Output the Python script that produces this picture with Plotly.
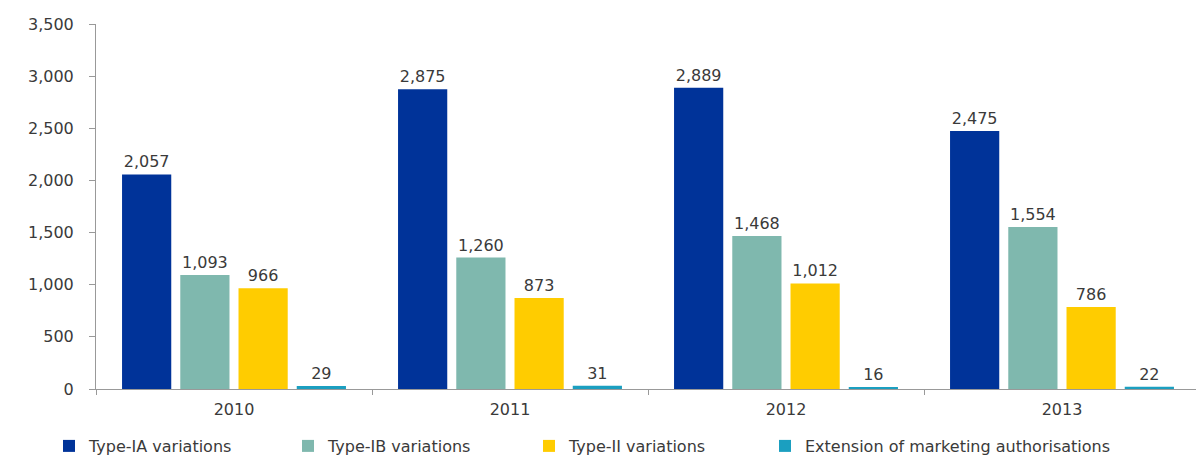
import plotly.graph_objects as go

years = ["2010", "2011", "2012", "2013"]
series_names = ["Type-IA variations", "Type-IB variations", "Type-II variations",
                "Extension of marketing authorisations"]
type_ia = [2057, 2875, 2889, 2475]
type_ib = [1093, 1260, 1468, 1554]
type_ii = [966, 873, 1012, 786]
extension = [29, 31, 16, 22]
colors = ["#003399", "#7fb8ae", "#ffcc00", "#1b9fc0"]
y_ticks = [0, 500, 1000, 1500, 2000, 2500, 3000, 3500]
legend_ids = ["legend", "legend2", "legend3", "legend4"]
legend_x_px = [41, 280, 521, 757]

font_family = "DejaVu Sans, Verdana, sans-serif"
txt_color = "#3a3a3a"
fig = go.Figure()
for name, vals, col, lid in zip(series_names, [type_ia, type_ib, type_ii, extension],
                                colors, legend_ids):
    fig.add_trace(go.Bar(
        x=years, y=vals, name=name, marker_color=col, marker_line_width=0,
        legend=lid,
        text=[f"{v:,}" for v in vals], textposition="outside", cliponaxis=False,
        textfont=dict(size=16, color=txt_color, family=font_family),
    ))

legend_layout = {}
for lid, lx in zip(legend_ids, legend_x_px):
    legend_layout[lid] = dict(
        orientation="h", xref="container", x=lx / 1204, xanchor="left",
        yref="container", y=18 / 456, yanchor="middle",
        font=dict(size=16, color=txt_color), itemwidth=30,
        bgcolor="rgba(0,0,0,0)",
    )

fig.update_layout(
    width=1204, height=456,
    margin=dict(l=88, r=12, t=16, b=75, autoexpand=False),
    plot_bgcolor="white", paper_bgcolor="white",
    barmode="group", bargap=0.156, bargroupgap=0.155,
    font=dict(family=font_family, size=16, color=txt_color),
    showlegend=True,
    xaxis=dict(showline=True, linecolor="#999999", linewidth=1, automargin=False,
               ticks="outside", tickson="boundaries", ticklen=5, tickcolor="#999999",
               ticklabelstandoff=6,
               tickfont=dict(size=16, color=txt_color)),
    yaxis=dict(range=[0, 3500], tickvals=y_ticks, tickformat=",",
               showgrid=False, zeroline=False, automargin=False,
               showline=True, linecolor="#999999", linewidth=1,
               ticks="outside", ticklen=6, tickcolor="#999999",
               ticklabelstandoff=12,
               tickfont=dict(size=16, color=txt_color)),
    **legend_layout,
)
fig.write_html("out.html")
